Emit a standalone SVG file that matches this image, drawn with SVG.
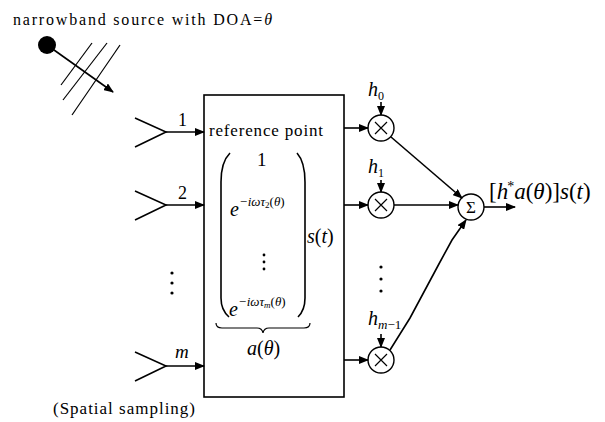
<svg xmlns="http://www.w3.org/2000/svg" width="605" height="422" viewBox="0 0 605 422">
<defs>
<marker id="ah" markerWidth="10" markerHeight="8" refX="9" refY="4" orient="auto" markerUnits="userSpaceOnUse">
<path d="M0,0 L10,4 L0,8 z" fill="#000"/>
</marker>
<style>
.ln{stroke:#000;stroke-width:1.6;fill:none}
.th{stroke:#000;stroke-width:1.2;fill:none}
.ar{stroke:#000;stroke-width:1.6;fill:none;marker-end:url(#ah)}
.t{font-family:"Liberation Serif","DejaVu Serif",serif;fill:#000}
.m{font-family:"Liberation Serif","DejaVu Serif",serif;font-style:italic;fill:#000}
.c{stroke:#000;stroke-width:1.4;fill:#fff}
</style>
</defs>
<rect width="605" height="422" fill="#fff"/>

<g id="source">
<text class="t" x="13" y="25" font-size="16" textLength="259" lengthAdjust="spacing">narrowband source with DOA=<tspan font-style="italic">θ</tspan></text>
<circle cx="47" cy="45" r="9" fill="#000"/>
<line class="ar" x1="47" y1="45" x2="113" y2="92"/>
<line class="th" x1="61" y1="85" x2="92" y2="43"/>
<line class="th" x1="63" y1="100" x2="107" y2="43"/>
<line class="th" x1="72" y1="115" x2="120" y2="45"/>
</g>

<g id="sensor1">
<polyline class="ln" points="135,118 166,132 135,147"/>
<text class="t" x="178" y="126" font-size="18">1</text>
</g>
<g id="sensor2">
<polyline class="ln" points="135,191 166,205 135,220"/>
<text class="t" x="178" y="199" font-size="18">2</text>
</g>
<g id="sensorm">
<polyline class="ln" points="135,352 166,366 135,381"/>
<text class="m" x="175" y="358" font-size="19">m</text>
</g>
<g id="dotsL" fill="#000">
<circle cx="172" cy="273" r="1.6"/>
<circle cx="172" cy="283" r="1.6"/>
<circle cx="172" cy="293" r="1.6"/>
</g>
<text class="t" x="53" y="414" font-size="17" textLength="142" lengthAdjust="spacing">(Spatial sampling)</text>

<g id="box">
<rect x="204" y="95" width="140" height="302" class="ln"/>
<text class="t" x="209" y="136" font-size="17" textLength="114" lengthAdjust="spacing">reference point</text>
<path class="ln" d="M230,153 Q221,162 221,182 L221,298 Q221,310 229,317"/>
<path class="ln" d="M297,153 Q305,162 305,182 L305,298 Q305,310 298,317"/>
<text class="t" x="257" y="166" font-size="19">1</text>
<text class="m" x="230" y="216" font-size="20">e<tspan font-size="13" dy="-10">−iωτ</tspan><tspan font-size="9" font-style="normal" dy="2">2</tspan><tspan font-size="13" font-style="normal" dy="-2">(</tspan><tspan font-size="13">θ</tspan><tspan font-size="13" font-style="normal">)</tspan></text>
<g fill="#000">
<circle cx="264" cy="255" r="1.4"/>
<circle cx="264" cy="262" r="1.4"/>
<circle cx="264" cy="269" r="1.4"/>
</g>
<text class="m" x="229" y="316" font-size="20">e<tspan font-size="13" dy="-10">−iωτ</tspan><tspan font-size="9" dy="2">m</tspan><tspan font-size="13" font-style="normal" dy="-2">(</tspan><tspan font-size="13">θ</tspan><tspan font-size="13" font-style="normal">)</tspan></text>
<text class="m" x="307" y="243" font-size="20">s<tspan font-style="normal">(</tspan>t<tspan font-style="normal">)</tspan></text>
<path class="th" d="M216,323 Q216,328 222,328 L257,328 Q262,328 263,333 Q264,328 269,328 L304,328 Q310,328 310,323"/>
<text class="m" x="247" y="355" font-size="20">a<tspan font-style="normal">(</tspan>θ<tspan font-style="normal">)</tspan></text>
</g>

<g id="mult0">
<circle class="c" cx="381" cy="128" r="13"/>
<path class="th" d="M375,122 L387,134 M387,122 L375,134"/>
<text class="m" x="368" y="96" font-size="20">h<tspan font-size="12" font-style="normal" dy="4">0</tspan></text>
</g>
<g id="mult1">
<circle class="c" cx="381" cy="205" r="13"/>
<path class="th" d="M375,199 L387,211 M387,199 L375,211"/>
<text class="m" x="368" y="173" font-size="20">h<tspan font-size="12" font-style="normal" dy="4">1</tspan></text>
</g>
<g id="multm">
<circle class="c" cx="381" cy="360" r="13"/>
<path class="th" d="M375,354 L387,366 M387,354 L375,366"/>
<text class="m" x="368" y="325" font-size="20">h<tspan font-size="13" dy="4">m</tspan><tspan font-size="13" font-style="normal">−1</tspan></text>
</g>
<g id="dotsR" fill="#000">
<circle cx="381" cy="267" r="1.6"/>
<circle cx="381" cy="279" r="1.6"/>
<circle cx="381" cy="291" r="1.6"/>
</g>
<g id="sum">
<circle class="c" cx="471" cy="207" r="13"/>
<text class="t" x="471" y="213" font-size="17" text-anchor="middle">Σ</text>
<text class="m" x="489" y="199" font-size="23"><tspan font-style="normal">[</tspan>h<tspan font-size="14" font-style="normal" dy="-8" dx="-1">*</tspan><tspan dy="8">a</tspan><tspan font-style="normal">(</tspan>θ<tspan font-style="normal">)]</tspan>s<tspan font-style="normal">(</tspan>t<tspan font-style="normal">)</tspan></text>
</g>

<g id="connectors">
<line class="ar" x1="166" y1="132" x2="204" y2="132"/>
<line class="ar" x1="166" y1="205" x2="204" y2="205"/>
<line class="ar" x1="166" y1="366" x2="204" y2="366"/>
<line class="ar" x1="344" y1="128" x2="368" y2="128"/>
<line class="ar" x1="344" y1="205" x2="368" y2="205"/>
<line class="ar" x1="344" y1="360" x2="368" y2="360"/>
<line class="ar" x1="381" y1="102" x2="381" y2="115"/>
<line class="ar" x1="381" y1="180" x2="381" y2="192"/>
<line class="ar" x1="381" y1="334" x2="381" y2="347"/>
<line class="ar" x1="391" y1="137" x2="462" y2="198"/>
<line class="ar" x1="394" y1="205" x2="458" y2="205"/>
<path class="ar" d="M390,350 L410,318 L425,290 L440,262 L452,240 L466,220"/>
<line class="ar" x1="484" y1="207" x2="515" y2="207"/>
</g>
</svg>
